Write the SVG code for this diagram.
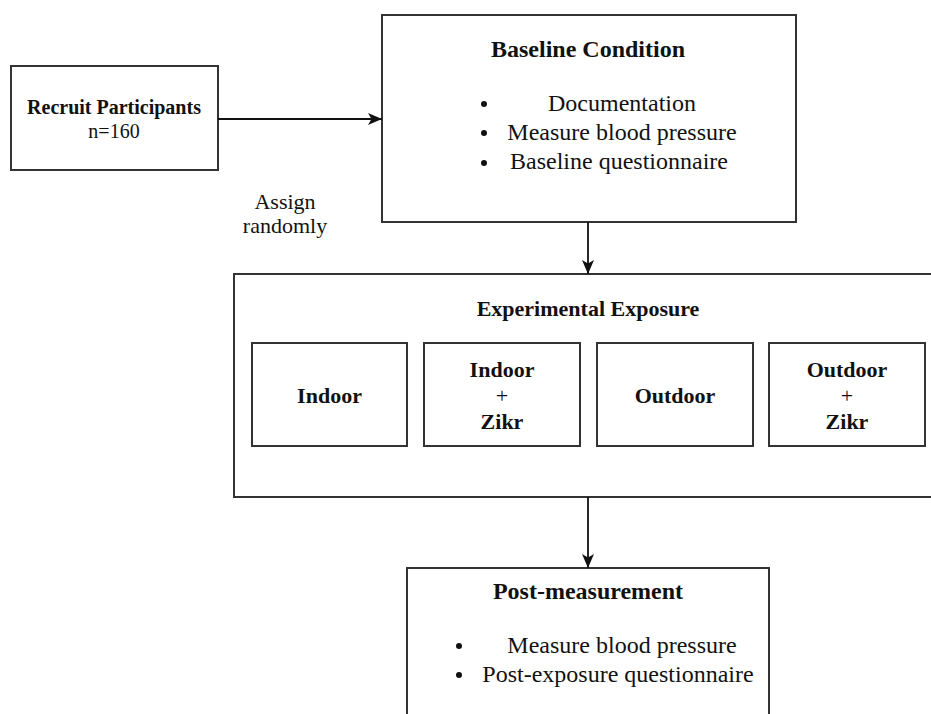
<svg xmlns="http://www.w3.org/2000/svg" width="931" height="714" viewBox="0 0 931 714">
<style>
.box{fill:#fff;stroke:#333;stroke-width:2}
.t{font-family:"Liberation Serif","Times New Roman",serif;fill:#111}
.b{font-weight:bold}
.c{text-anchor:middle}
.ln{stroke:#111;stroke-width:1.8;fill:none}
</style>
<defs>
<marker id="ah" viewBox="0 0 14 12" refX="14" refY="6" markerWidth="14" markerHeight="12" markerUnits="userSpaceOnUse" orient="auto">
<path d="M0,0 L14,6 L0,12 L3.5,6 Z" fill="#111"/>
</marker>
</defs>
<rect x="0" y="0" width="931" height="714" fill="#fff"/>
<g id="recruit">
<rect class="box" x="11" y="66" width="207" height="104"/>
<text class="t b c" x="114" y="114" font-size="20">Recruit Participants</text>
<text class="t c" x="114" y="138" font-size="20">n=160</text>
</g>
<g id="assign-label">
<text class="t c" x="285" y="209" font-size="22">Assign</text>
<text class="t c" x="285" y="233" font-size="22">randomly</text>
</g>
<g id="baseline">
<rect class="box" x="382" y="15" width="414" height="207"/>
<text class="t b c" x="588" y="57" font-size="24">Baseline Condition</text>
<circle cx="484" cy="104" r="3" fill="#111"/>
<circle cx="484" cy="133" r="3" fill="#111"/>
<circle cx="484" cy="163" r="3" fill="#111"/>
<text class="t c" x="622" y="111" font-size="24">Documentation</text>
<text class="t c" x="622" y="140" font-size="24">Measure blood pressure</text>
<text class="t c" x="619" y="169" font-size="24">Baseline questionnaire</text>
</g>
<g id="experimental">
<rect class="box" x="234" y="274" width="710" height="223"/>
<text class="t b c" x="588" y="316" font-size="22">Experimental Exposure</text>
</g>
<g id="indoor">
<rect class="box" x="252" y="343" width="155" height="103"/>
<text class="t b c" x="329.5" y="403" font-size="22">Indoor</text>
</g>
<g id="indoor-zikr">
<rect class="box" x="424" y="343" width="156" height="103"/>
<text class="t b c" x="502" y="377" font-size="22">Indoor</text>
<text class="t c" x="502" y="403" font-size="22">+</text>
<text class="t b c" x="502" y="429" font-size="22">Zikr</text>
</g>
<g id="outdoor">
<rect class="box" x="597" y="343" width="156" height="103"/>
<text class="t b c" x="675" y="403" font-size="22">Outdoor</text>
</g>
<g id="outdoor-zikr">
<rect class="box" x="769" y="343" width="156" height="103"/>
<text class="t b c" x="847" y="377" font-size="22">Outdoor</text>
<text class="t c" x="847" y="403" font-size="22">+</text>
<text class="t b c" x="847" y="429" font-size="22">Zikr</text>
</g>
<g id="post">
<rect class="box" x="407" y="568" width="362" height="170"/>
<text class="t b c" x="588" y="599" font-size="24">Post-measurement</text>
<circle cx="459" cy="646" r="3" fill="#111"/>
<circle cx="459" cy="675" r="3" fill="#111"/>
<text class="t c" x="622" y="653" font-size="24">Measure blood pressure</text>
<text class="t c" x="618" y="682" font-size="24">Post-exposure questionnaire</text>
</g>
<g id="connectors">
<line class="ln" x1="218" y1="119" x2="382" y2="119" marker-end="url(#ah)"/>
<line class="ln" x1="588" y1="222" x2="588" y2="274" marker-end="url(#ah)"/>
<line class="ln" x1="588" y1="497" x2="588" y2="568" marker-end="url(#ah)"/>
</g>
</svg>
